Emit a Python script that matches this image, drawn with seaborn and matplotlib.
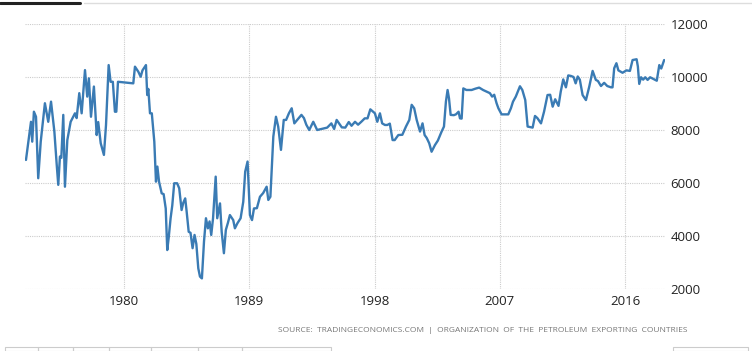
import numpy as np
import pandas as pd
import matplotlib
matplotlib.use("Agg")
import matplotlib.pyplot as plt
from matplotlib.lines import Line2D
from matplotlib.patches import Rectangle
import seaborn as sns

# values (fractional year, thousand barrels/day)
years = [
    1972.96, 1973.12, 1973.32, 1973.41, 1973.53, 1973.68, 1973.84, 1974.02, 1974.32, 1974.56,
    1974.76, 1975.00, 1975.17, 1975.28, 1975.40, 1975.50, 1975.64, 1975.76, 1975.93, 1976.17,
    1976.48, 1976.60, 1976.79, 1976.96, 1977.20, 1977.36, 1977.48, 1977.63, 1977.84, 1978.04,
    1978.15, 1978.33, 1978.56, 1978.71, 1978.90, 1979.04, 1979.20, 1979.35, 1979.45, 1979.57,
    1980.67, 1980.79, 1981.03, 1981.20, 1981.33, 1981.58, 1981.67, 1981.75, 1981.87, 1982.00,
    1982.18, 1982.30, 1982.40, 1982.52, 1982.71, 1982.85, 1983.00, 1983.11, 1983.22, 1983.35,
    1983.47, 1983.61, 1983.82, 1983.97, 1984.14, 1984.26, 1984.40, 1984.50, 1984.65, 1984.78,
    1984.93, 1985.07, 1985.20, 1985.34, 1985.46, 1985.60, 1985.75, 1985.89, 1986.03, 1986.15,
    1986.27, 1986.40, 1986.59, 1986.70, 1986.90, 1987.02, 1987.18, 1987.32, 1987.47, 1987.61,
    1987.85, 1987.97, 1988.15, 1988.38, 1988.57, 1988.71, 1988.88, 1989.05, 1989.20, 1989.34,
    1989.55, 1989.77, 1990.00, 1990.25, 1990.37, 1990.52, 1990.60, 1990.73, 1990.92, 1991.08,
    1991.28, 1991.48, 1991.65, 1991.85, 1992.05, 1992.24, 1992.75, 1992.93, 1993.10, 1993.31,
    1993.60, 1993.88, 1994.20, 1994.60, 1994.90, 1995.10, 1995.28, 1995.45, 1995.65, 1995.90,
    1996.15, 1996.35, 1996.60, 1996.82, 1997.05, 1997.30, 1997.50, 1997.70, 1998.03, 1998.20,
    1998.39, 1998.55, 1998.75, 1998.92, 1999.10, 1999.30, 1999.45, 1999.71, 2000.00, 2000.26,
    2000.50, 2000.67, 2000.85, 2001.03, 2001.27, 2001.45, 2001.60, 2001.75, 2001.93, 2002.10,
    2002.34, 2002.55, 2002.82, 2002.99, 2003.13, 2003.25, 2003.35, 2003.47, 2003.70, 2003.85,
    2004.04, 2004.14, 2004.26, 2004.38, 2004.60, 2004.98, 2005.25, 2005.52, 2005.80, 2006.05,
    2006.29, 2006.45, 2006.60, 2006.77, 2006.90, 2007.13, 2007.61, 2007.80, 2007.95, 2008.15,
    2008.45, 2008.62, 2008.83, 2009.00, 2009.36, 2009.53, 2009.70, 2009.96, 2010.18, 2010.43,
    2010.62, 2010.80, 2010.98, 2011.22, 2011.38, 2011.56, 2011.75, 2011.92, 2012.11, 2012.30,
    2012.45, 2012.60, 2012.75, 2012.95, 2013.19, 2013.43, 2013.67, 2013.90, 2014.05, 2014.27,
    2014.50, 2014.72, 2014.99, 2015.10, 2015.22, 2015.38, 2015.52, 2015.82, 2016.10, 2016.35,
    2016.54, 2016.83, 2016.92, 2017.02, 2017.15, 2017.30, 2017.45, 2017.62, 2017.80, 2018.10,
    2018.28, 2018.46, 2018.60, 2018.81,
]
production = [
    6870, 7500, 8310, 7560, 8690, 8500, 6180, 7560, 9010, 8310,
    9070, 7940, 6680, 5930, 7000, 6950, 8570, 5860, 7620, 8310,
    8630, 8450, 9390, 8630, 10260, 9260, 9950, 8500, 9640, 7810,
    8300, 7500, 7060, 8190, 10450, 9820, 9820, 8690, 8690, 9820,
    9760, 10390, 10200, 10010, 10250, 10450, 9320, 9550, 8630, 8630,
    7560, 6050, 6620, 6050, 5610, 5580, 5040, 3470, 3970, 4670,
    5150, 5990, 5990, 5800, 4980, 5250, 5420, 4940, 4160, 4120,
    3540, 4040, 3700, 2780, 2470, 2400, 3790, 4670, 4290, 4550,
    4040, 4670, 6240, 4670, 5230, 4160, 3350, 4230, 4500, 4790,
    4600, 4290, 4480, 4670, 5290, 6430, 6810, 4790, 4600, 5040,
    5050, 5480, 5620, 5860, 5360, 5480, 6360, 7750, 8500, 8130,
    7250, 8380, 8380, 8630, 8820, 8250, 8570, 8450, 8200, 8000,
    8310, 8000, 8040, 8090, 8250, 8040, 8380, 8250, 8100, 8090,
    8300, 8160, 8310, 8200, 8310, 8440, 8440, 8780, 8630, 8310,
    8630, 8250, 8190, 8190, 8240, 7620, 7620, 7810, 7820, 8130,
    8380, 8950, 8820, 8380, 7940, 8250, 7810, 7700, 7500, 7180,
    7430, 7600, 7940, 8130, 9070, 9510, 9200, 8570, 8560, 8590,
    8690, 8440, 8430, 9570, 9510, 9510, 9560, 9600, 9510, 9450,
    9390, 9260, 9330, 9010, 8820, 8590, 8590, 8820, 9070, 9260,
    9650, 9510, 9130, 8130, 8090, 8530, 8450, 8250, 8690, 9320,
    9330, 8880, 9160, 8910, 9450, 9910, 9610, 10060, 10040, 10000,
    9760, 10020, 9900, 9320, 9130, 9640, 10230, 9890, 9850, 9660,
    9780, 9660, 9610, 9610, 10330, 10520, 10250, 10160, 10250, 10230,
    10640, 10670, 10400, 9740, 9990, 9900, 9990, 9890, 9990, 9910,
    9860, 10450, 10320, 10640,
]

xticks = [1980, 1989, 1998, 2007, 2016]
yticks = [2000, 4000, 6000, 8000, 10000, 12000]
source = "SOURCE:  TRADINGECONOMICS.COM  |  ORGANIZATION  OF  THE  PETROLEUM  EXPORTING  COUNTRIES"

df = pd.DataFrame({"year": years, "value": production})

sns.set_style("white")
plt.rcParams["font.family"] = ["Open Sans", "DejaVu Sans"]

fig = plt.figure(figsize=(7.52, 3.51), dpi=100)
ax = fig.add_axes([25 / 752, 1 - 289 / 351, 640 / 752, 265 / 351])

sns.lineplot(data=df, x="year", y="value", ax=ax, color="#3a7bb4", linewidth=1.7)

ax.set_xlim(1972.89, 2018.87)
ax.set_ylim(2000, 12000)
ax.set_xticks(xticks)
ax.set_yticks(yticks)
ax.set_xlabel("")
ax.set_ylabel("")
ax.yaxis.tick_right()
ax.tick_params(axis="both", length=0, labelsize=9.5, labelcolor="#222222")
ax.tick_params(axis="y", pad=4)
ax.tick_params(axis="x", pad=4)
ax.grid(True, color="#cccccc", linestyle=(0, (1, 1)), linewidth=0.8)
for s in ax.spines.values():
    s.set_visible(False)

# page chrome around the chart
fig.add_artist(Line2D([0, 80 / 752], [1 - 3 / 351] * 2, color="#222222", linewidth=2.2))
fig.add_artist(Line2D([84 / 752, 1], [1 - 3 / 351] * 2, color="#dddddd", linewidth=1))
fig.text(688 / 752, 1 - 330 / 351, source, ha="right", va="center", fontsize=6, color="#777777")
for x0, x1 in [(5, 38), (38, 73), (73, 109), (109, 151), (151, 198), (198, 242), (242, 331)]:
    fig.add_artist(Rectangle((x0 / 752, 0), (x1 - x0) / 752, 4 / 351,
                             fill=False, edgecolor="#cccccc", linewidth=0.8))
fig.add_artist(Rectangle((673 / 752, 0), 75 / 752, 4 / 351,
                         fill=False, edgecolor="#cccccc", linewidth=0.8))

fig.savefig("out.png", dpi=100)
